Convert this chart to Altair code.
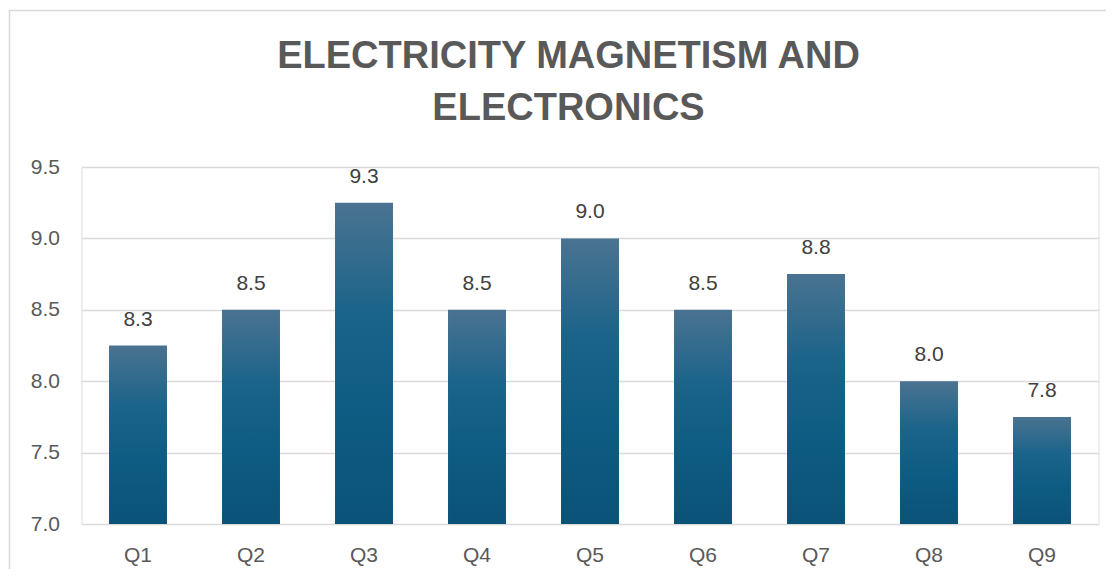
import altair as alt
import pandas as pd

categories = ["Q1", "Q2", "Q3", "Q4", "Q5", "Q6", "Q7", "Q8", "Q9"]
values = [8.25, 8.5, 9.25, 8.5, 9.0, 8.5, 8.75, 8.0, 7.75]
y_ticks = [7.0, 7.5, 8.0, 8.5, 9.0, 9.5]
title_lines = ["ELECTRICITY MAGNETISM AND", "ELECTRONICS"]

df = pd.DataFrame({"q": categories, "v": values})
one = pd.DataFrame({"k": [0]})

FONT = "Liberation Sans"
GREY = "#595959"

gradient = alt.LinearGradient(
    gradient="linear",
    stops=[
        alt.GradientStop(offset=0, color="#4a7391"),
        alt.GradientStop(offset=0.35, color="#1a6389"),
        alt.GradientStop(offset=0.65, color="#0e5c83"),
        alt.GradientStop(offset=1, color="#0b5277"),
    ],
    x1=1, x2=1, y1=0, y2=1,
)

x = alt.X(
    "q:N", sort=categories, title=None,
    scale=alt.Scale(paddingInner=0.487, paddingOuter=0.2435),
    axis=alt.Axis(labelAngle=0, labelFont=FONT, labelFontSize=21, labelColor=GREY,
                  ticks=False, domain=False, labelPadding=20),
)
y = alt.Y(
    "v:Q", title=None,
    scale=alt.Scale(domain=[7.0, 9.5], zero=False, nice=False, clamp=True),
    axis=alt.Axis(values=y_ticks, format=".1f", labelFont=FONT, labelFontSize=21,
                  labelColor=GREY, ticks=False, domain=False, labelPadding=22,
                  gridColor="#d9d9d9", gridWidth=1.5),
)

bars = alt.Chart(df).mark_bar(color=gradient, clip=True).encode(x=x, y=y, y2=alt.datum(7.0))

labels = alt.Chart(df).mark_text(
    font=FONT, fontSize=21, color="#404040", baseline="alphabetic", dy=-20
).encode(x=x, y=y, text=alt.Text("v:Q", format=".1f"))

border = alt.Chart(one).mark_rule(color="#d9d9d9", strokeWidth=1.5, clip=False).encode(
    x=alt.value(-72), y=alt.value(-156.5), y2=alt.value(420)
)
border_top = alt.Chart(one).mark_rule(color="#d9d9d9", strokeWidth=1.5, clip=False).encode(
    x=alt.value(-72), x2=alt.value(1040), y=alt.value(-156.5)
)

title = alt.Chart(one).mark_text(
    text=title_lines, font=FONT, fontSize=38, fontWeight="bold", color=GREY,
    lineHeight=52, baseline="alphabetic", align="center", clip=False,
).encode(x=alt.value(487), y=alt.value(-99))

chart = alt.layer(border, border_top, bars, labels, title).properties(
    width=1017,
    height=357,
    autosize=alt.AutoSizeParams(type="none"),
    padding={"left": 73.5, "top": 159, "right": 7.5, "bottom": 45},
).configure_view(stroke=None).configure(background="white")

chart.save("out.html", embed_options={"renderer": "svg", "actions": False})
